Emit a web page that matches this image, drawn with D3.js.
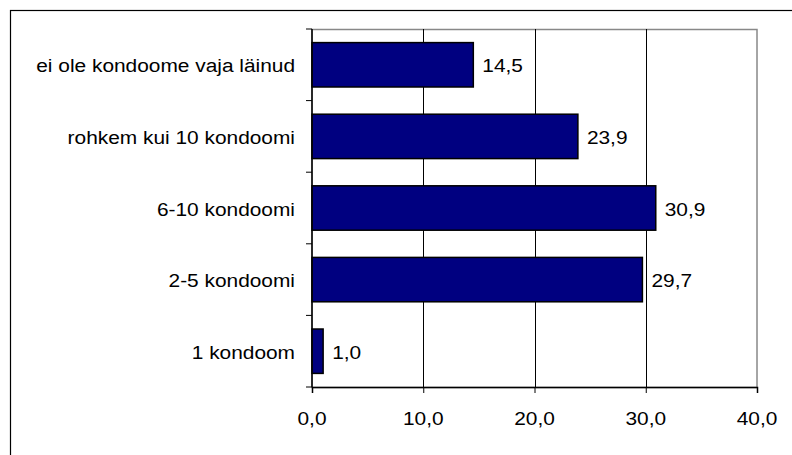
<!DOCTYPE html>
<html><head><meta charset="utf-8">
<script src="https://cdn.jsdelivr.net/npm/d3@7"></script>
<style>body{margin:0;background:#fff}svg{display:block}</style>
</head><body>
<svg id="c" width="792" height="455"></svg>
<script>
const categories = ["ei ole kondoome vaja läinud","rohkem kui 10 kondoomi","6-10 kondoomi","2-5 kondoomi","1 kondoom"];
const values = [14.5, 23.9, 30.9, 29.7, 1.0];
const xTicks = [0, 10, 20, 30, 40];

const svg = d3.select("#c");
const font = "Liberation Sans, Arial, sans-serif";
const FS = 18, SX = 1.16;
const L = 312, R = 757, T = 29, B = 387;

svg.append("rect").attr("x",10.5).attr("y",10.5).attr("width",900).attr("height",600)
  .attr("fill","none").attr("stroke","#000").attr("stroke-width",1.2);

const x = d3.scaleLinear().domain([0,40]).range([L,R]);
const y = d3.scaleBand().domain(categories).range([T,B]).paddingInner(0.38).paddingOuter(0.19);
const fmt = v => d3.format(".1f")(v).replace(".", ",");

function label(g, px, py, txt, anchor, dy) {
  g.append("text").attr("transform",`translate(${px},${py}) scale(${SX},1)`)
    .attr("text-anchor",anchor).attr("dy",dy)
    .attr("font-family",font).attr("font-size",FS).attr("fill","#000").text(txt);
}

// plot area border
svg.append("rect").attr("x",L).attr("y",T+0.5).attr("width",R-L).attr("height",B-T)
  .attr("fill","none").attr("stroke","#888").attr("stroke-width",1.5);

// gridlines
svg.append("g").selectAll("line").data(xTicks.slice(1,-1)).join("line")
  .attr("x1",d=>Math.round(x(d))+0.5).attr("x2",d=>Math.round(x(d))+0.5)
  .attr("y1",T).attr("y2",B).attr("stroke","#000").attr("stroke-width",1);

// bars
svg.append("g").selectAll("rect").data(values).join("rect")
  .attr("x",L).attr("y",(d,i)=>y(categories[i]))
  .attr("width",d=>x(d)-L).attr("height",y.bandwidth())
  .attr("fill","#000080").attr("stroke","#000").attr("stroke-width",1.5);

// value labels
const vl = svg.append("g");
values.forEach((v,i)=>label(vl, x(v)+9, y(categories[i])+y.bandwidth()/2, fmt(v), "start", "0.42em"));

// x axis
const xa = svg.append("g").attr("transform",`translate(0,${B})`)
  .call(d3.axisBottom(x).tickValues(xTicks).tickFormat("").tickSize(6));
xa.select(".domain").attr("stroke","#000").attr("stroke-width",1.5);
xa.selectAll(".tick line").attr("stroke","#000");
const xl = svg.append("g");
xTicks.forEach(t=>label(xl, x(t), B+25, fmt(t), "middle", "0.71em"));

// y axis: ticks between bands
const yb = d3.range(categories.length+1).map(i => T + i*(B-T)/categories.length);
svg.append("line").attr("x1",L).attr("x2",L).attr("y1",T).attr("y2",B).attr("stroke","#000").attr("stroke-width",1.5);
svg.append("g").selectAll("line").data(yb).join("line")
  .attr("x1",L-6).attr("x2",L).attr("y1",d=>d).attr("y2",d=>d).attr("stroke","#000");
const yl = svg.append("g");
categories.forEach(c=>label(yl, 295, y(c)+y.bandwidth()/2, c, "end", "0.42em"));
</script>
</body></html>
